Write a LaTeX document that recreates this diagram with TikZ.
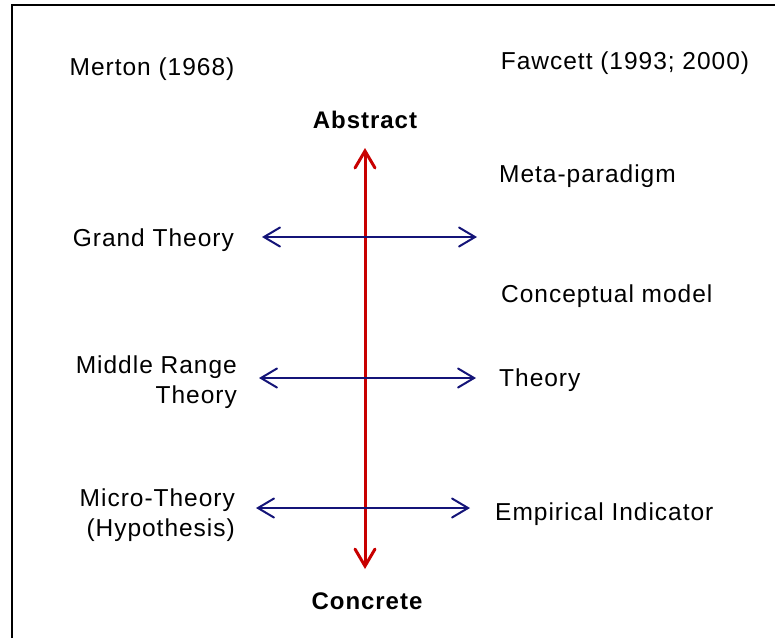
\documentclass[tikz,border=0pt]{standalone}
\usepackage{fontspec}
\setmainfont{Liberation Sans}[LetterSpace=4]
\usetikzlibrary{arrows.meta}
\definecolor{axisred}{RGB}{200,0,0}
\definecolor{navyline}{RGB}{20,20,120}
\tikzset{
  lbl/.style={inner sep=0pt, font=\fontsize{24.5}{30}\selectfont, text height=18pt, text depth=5pt},
  pole/.style={lbl, font=\fontsize{24}{30}\selectfont\bfseries},
  hbar/.style={navyline, line width=2pt, {Straight Barb[length=16pt,width=19pt,line cap=round]}-{Straight Barb[length=16pt,width=19pt,line cap=round]}},
  vbar/.style={axisred, line width=3pt, {Straight Barb[length=17pt,width=20pt,line cap=round]}-{Straight Barb[length=17pt,width=20pt,line cap=round]}},
}
\begin{document}
\begin{tikzpicture}[x=1pt,y=-1pt]
\useasboundingbox (0,0) rectangle (775,638);
\draw[line width=2pt] (12,638) -- (12,5) -- (776,5);
% headings
\node[lbl] (merton) at (152,69) {Merton (1968)};
\node[lbl] (fawcett) at (625,63) {Fawcett (1993; 2000)};
\node[pole] (abs) at (365,122) {Abstract};
\node[pole] (con) at (367,603) {Concrete};
% left labels
\node[lbl, anchor=east] (grand) at (234,240) {Grand Theory};
\node[lbl, anchor=east, align=right] (middle) at (237,397) {Middle Range\\Theory};
\node[lbl, anchor=east, align=right] (micro) at (235,530) {Micro-Theory\\(Hypothesis)};
% right labels
\node[lbl, anchor=west] (meta) at (499,176) {Meta-paradigm};
\node[lbl, anchor=west] (concept) at (501,296) {Conceptual model};
\node[lbl, anchor=west] (theory) at (499,380) {Theory};
\node[lbl, anchor=west] (emp) at (495,514) {Empirical Indicator};
% arrow end points
\coordinate (vtop) at (365,148);
\coordinate (vbot) at (365,569);
\coordinate (g1) at (262,237);
\coordinate (g2) at (477,237);
\coordinate (m1) at (259,378);
\coordinate (m2) at (476,378);
\coordinate (c1) at (256,508);
\coordinate (c2) at (470,508);
\draw[vbar] (vtop) -- (vbot);
\draw[hbar] (g1) -- (g2);
\draw[hbar] (m1) -- (m2);
\draw[hbar] (c1) -- (c2);
\end{tikzpicture}
\end{document}
